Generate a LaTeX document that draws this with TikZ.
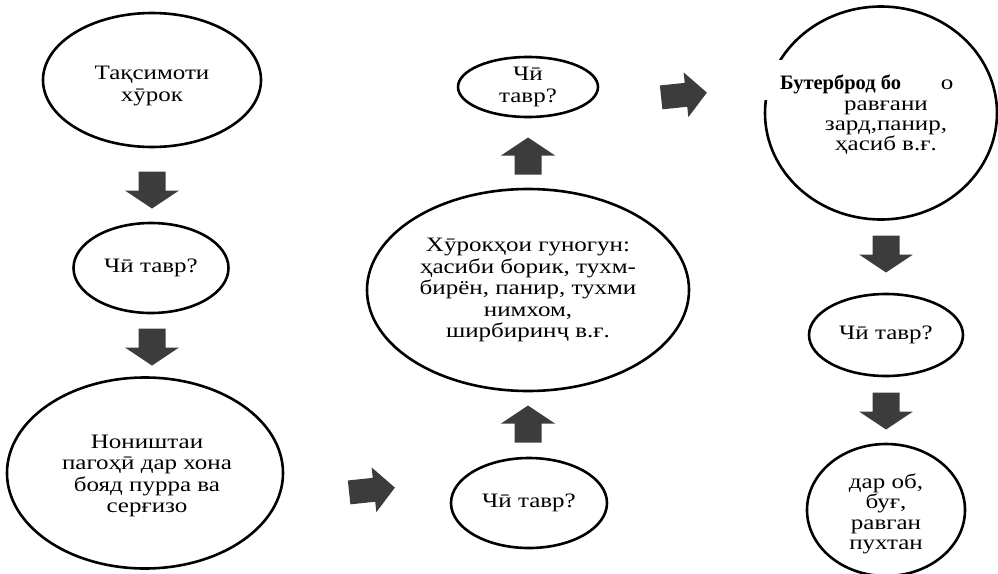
\documentclass[tikz,border=0pt]{standalone}
\usepackage{fontspec}
\setmainfont{Liberation Serif}
\newfontfamily\widefont[FakeStretch=1.22]{Liberation Serif}
\usetikzlibrary{shapes.geometric}
\definecolor{arrowgray}{RGB}{60,60,60}
\tikzset{
  oval/.style={ellipse, draw=black, line width=2.6pt, inner sep=0pt, align=center,
    font=\widefont\fontsize{20.5}{21.5}\selectfont},
  plaintext/.style={inner sep=0pt, align=center, font=\widefont\fontsize{20.5}{21.5}\selectfont},
  vblock/.pic={\fill[arrowgray] (-18.5,-13.5) -- (0.5,-13.5) -- (0.5,-27) -- (18.5,0)
      -- (0.5,27) -- (0.5,13.5) -- (-18.5,13.5) -- cycle;},
  hblock/.pic={\fill[arrowgray] (-23,-12) -- (2,-12) -- (2,-22.5) -- (23,0)
      -- (2,22.5) -- (2,12) -- (-23,12) -- cycle;}
}
\begin{document}
\begin{tikzpicture}[x=1pt,y=-1pt]
\useasboundingbox (0,0) rectangle (998,573);

% left column
\node[oval, minimum width=218pt, minimum height=134pt] (e1) at (152,80) {};
\node[plaintext] (t1) at (152,86) {Тақсимоти\\хӯрок};
\coordinate (a1) at (152,190);
\pic[rotate=-90] at (a1) {vblock};
\node[oval, minimum width=155pt, minimum height=90pt] (e2) at (151,268) {Чӣ тавр?};
\coordinate (a2) at (152,347);
\pic[rotate=-90] at (a2) {vblock};
\node[oval, minimum width=276pt, minimum height=191pt] (e3) at (145,473) {};
\node[plaintext] (t3) at (147,476)
  {Ноништаи\\пагоҳӣ дар хона\\бояд пурра ва\\серғизо};
\coordinate (a3) at (372,490);
\pic[rotate=6] at (a3) {hblock};

% middle column
\node[oval, minimum width=156pt, minimum height=90pt] (e4) at (529,503) {Чӣ тавр?};
\coordinate (a4) at (528,424);
\pic[rotate=90] at (a4) {vblock};
\node[oval, minimum width=322pt, minimum height=202pt] (e5) at (528,290)
  {Хӯрокҳои гуногун:\\ҳасиби борик, тухм-\\бирён, панир, тухми\\нимхом,\\ширбиринҷ в.ғ.};
\coordinate (a5) at (528,156);
\pic[rotate=90] at (a5) {vblock};
\node[oval, minimum width=140pt, minimum height=60pt] (e6) at (528,87) {Чӣ\\тавр?};
\coordinate (a6) at (684,95);
\pic[rotate=6] at (a6) {hblock};

% right column
\node[oval, minimum width=232pt, minimum height=213pt] (e7) at (881,113) {};
\node[fill=white, inner sep=0pt, anchor=base west, text height=29pt, text depth=11pt,
  font=\bfseries\fontsize{20.5}{22}\selectfont] (t7a) at (760,89) {\hspace*{20pt}Бутерброд бо};
\node[plaintext, anchor=base] (t7b) at (947,89) {о};
\node[plaintext, font=\widefont\fontsize{20.5}{20}\selectfont] (t7c) at (886,128) {равғани\\зард,панир,\\ҳасиб в.ғ.};
\coordinate (a7) at (886,254);
\pic[rotate=-90] at (a7) {vblock};
\node[oval, minimum width=154pt, minimum height=82pt] (e8) at (886,335) {Чӣ тавр?};
\coordinate (a8) at (886,411);
\pic[rotate=-90] at (a8) {vblock};
\node[oval, minimum width=158pt, minimum height=132pt] (e9) at (886,510) {};
\node[plaintext, font=\widefont\fontsize{20.5}{20.5}\selectfont] (t9) at (886,514)
  {дар об,\\буғ,\\равган\\пухтан};
\end{tikzpicture}
\end{document}
